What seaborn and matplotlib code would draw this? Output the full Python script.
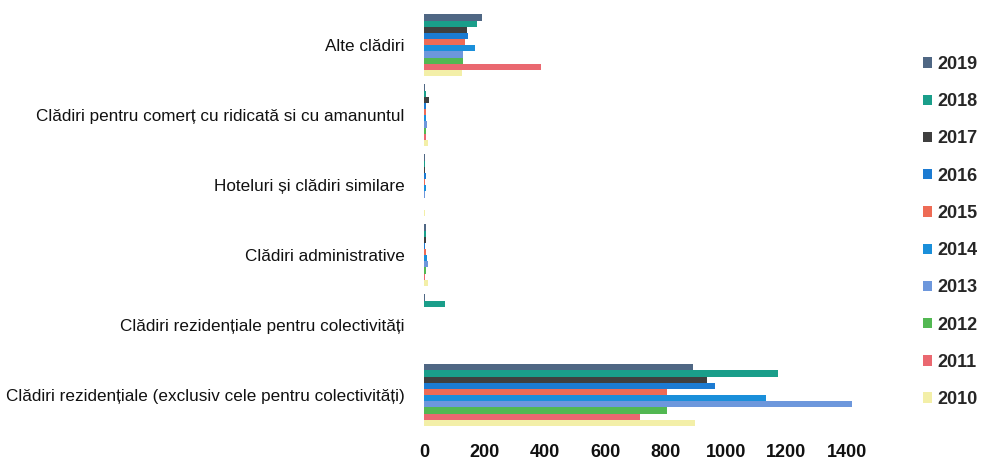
import pandas as pd
import seaborn as sns
import matplotlib
matplotlib.use('Agg')
import matplotlib.pyplot as plt

# Categories (top to bottom) and years (top bar to bottom bar in each group)
categories = [
    "Alte clădiri",
    "Clădiri pentru comerț cu ridicată si cu amanuntul",
    "Hoteluri și clădiri similare",
    "Clădiri administrative",
    "Clădiri rezidențiale pentru colectivități",
    "Clădiri rezidențiale (exclusiv cele pentru colectivități)",
]
years = ["2019", "2018", "2017", "2016", "2015", "2014", "2013", "2012", "2011", "2010"]

# values per category, ordered like `years`
alte = [192, 175, 143, 146, 136, 169, 130, 129, 387, 125]
comert = [3, 5, 15, 8, 5, 8, 10, 8, 5, 12]
hoteluri = [3, 2, 4, 5, 2, 6, 2, 1, 1, 2]
administrative = [5, 8, 6, 4, 8, 10, 12, 5, 3, 12]
colectivitati = [3, 70, 1, 1, 1, 1, 1, 1, 1, 1]
rezidentiale = [890, 1172, 937, 963, 804, 1132, 1417, 806, 715, 897]

colors = ["#4F6784", "#1A9E8A", "#3F3F3F", "#1C7BD2", "#EE6B55",
          "#1A8FDA", "#6D97DC", "#52B852", "#EA6870", "#F3EFA8"]

series = [alte, comert, hoteluri, administrative, colectivitati, rezidentiale]
rows = []
for cat, vals in zip(categories, series):
    for yr, v in zip(years, vals):
        rows.append({"categorie": cat, "an": yr, "valoare": v})
df = pd.DataFrame(rows)

sns.set_style("white")
plt.rcParams['font.family'] = ['Liberation Sans', 'DejaVu Sans']

fig = plt.figure(figsize=(9.82, 4.65), dpi=100)
ax = fig.add_axes([0.4318, 0.075, 0.452, 0.903])

sns.barplot(data=df, y="categorie", x="valoare", hue="an", hue_order=years,
            order=categories, palette=colors, orient="h", width=0.88,
            saturation=1, linewidth=0, ax=ax)

ax.set_xlim(0, 1470)
ax.set_xticks(range(0, 1401, 200))
ax.set_xlabel("")
ax.set_ylabel("")
sns.despine(ax=ax, left=True, bottom=True)
ax.tick_params(axis="x", length=0, pad=10, labelsize=13)
ax.tick_params(axis="y", length=0, pad=14, labelsize=12.3)
for lbl in ax.get_xticklabels():
    lbl.set_fontweight("bold")
for lbl in ax.get_xticklabels() + ax.get_yticklabels():
    lbl.set_color("#111111")

handles, labels = ax.get_legend_handles_labels()
ax.get_legend().remove()
fig.legend(handles, labels, loc="upper left", bbox_to_anchor=(0.933, 0.895),
           frameon=False, prop={"size": 13, "weight": "bold"},
           handlelength=0.5, handleheight=0.5,
           handletextpad=0.3, labelspacing=1.12, borderaxespad=0)

fig.savefig("out.png", dpi=100)
plt.close("all")
